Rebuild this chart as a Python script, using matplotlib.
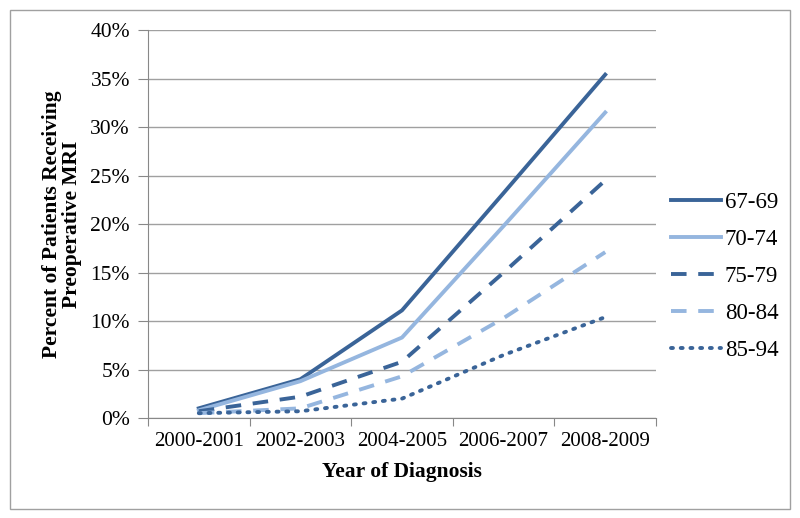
import matplotlib
matplotlib.use('Agg')
import matplotlib.pyplot as plt
from matplotlib.patches import Rectangle

plt.rcParams['font.family'] = ['Liberation Serif', 'DejaVu Serif']

years = ['2000-2001', '2002-2003', '2004-2005', '2006-2007', '2008-2009']
age_67_69 = [1.0, 4.0, 11.1, 23.2, 35.4]
age_70_74 = [0.8, 3.8, 8.3, 19.8, 31.5]
age_75_79 = [0.7, 2.2, 5.8, 15.0, 24.5]
age_80_84 = [0.5, 1.0, 4.3, 10.3, 17.1]
age_85_94 = [0.5, 0.7, 2.0, 6.5, 10.4]

dark = '#3A6498'
light = '#95B6DF'

fig = plt.figure(figsize=(8, 5.18), dpi=100)
ax = fig.add_axes([0.185, 0.193, 0.635, 0.749])

x = list(range(len(years)))
ax.plot(x, age_67_69, color=dark, lw=2.8, label='67-69')
ax.plot(x, age_70_74, color=light, lw=2.8, label='70-74')
ax.plot(x, age_75_79, color=dark, lw=2.8, dashes=(4, 3), label='75-79')
ax.plot(x, age_80_84, color=light, lw=2.8, dashes=(4, 3), label='80-84')
ax.plot(x, age_85_94, color=dark, lw=2.8, dashes=(0.5, 2.0), dash_capstyle='round', label='85-94')

ax.set_xlim(-0.5, 4.5)
ax.set_ylim(0, 40)
ax.set_yticks(range(0, 41, 5))
ax.set_yticklabels(['%d%%' % v for v in range(0, 41, 5)], fontsize=15.5)
ax.yaxis.grid(True, color='#A0A0A0', lw=1)
ax.set_axisbelow(True)

ax.set_xticks([i - 0.5 for i in range(6)])
ax.set_xticklabels([])
ax.set_xticks(x, minor=True)
ax.set_xticklabels(years, minor=True, fontsize=15)
ax.tick_params(axis='x', which='minor', length=0, pad=10)
ax.tick_params(axis='x', which='major', length=6, color='#888888')
ax.tick_params(axis='y', length=7, color='#888888', pad=6)

for s in ['top', 'right']:
    ax.spines[s].set_visible(False)
for s in ['left', 'bottom']:
    ax.spines[s].set_color('#888888')

ax.set_xlabel('Year of Diagnosis', fontsize=15.5, fontweight='bold', labelpad=8)
ax.set_ylabel('Percent of Patients Receiving\nPreoperative MRI', fontsize=15.5, fontweight='bold',
              labelpad=6, linespacing=1.0)

ax.legend(loc='center left', bbox_to_anchor=(1.0, 0.365), frameon=False, fontsize=16.5,
          handlelength=2.2, labelspacing=0.7, handletextpad=0.15, borderaxespad=0.25)

fig.patches.append(Rectangle((0.012, 0.018), 0.976, 0.962, transform=fig.transFigure,
                             fill=False, edgecolor='#A0A0A0', lw=1))

fig.savefig('out.png', dpi=100)
